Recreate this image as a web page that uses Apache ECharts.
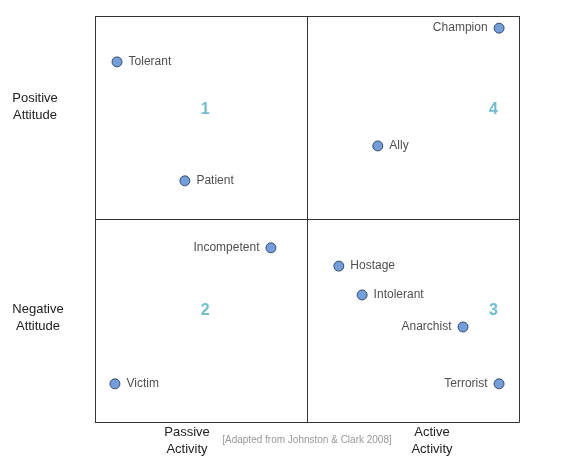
<!DOCTYPE html>
<html>
<head>
<meta charset="utf-8">
<script src="https://cdn.jsdelivr.net/npm/echarts@6/dist/echarts.min.js"></script>
<style>
    html, body, #main { margin: 0; padding: 0; width: 571px; height: 471px; background: #fff; }
</style>
</head>
<body>
<div id="main"></div>
<script>
    // stakeholder positions (activity 0-10, attitude 0-10)
    var names = ['Tolerant', 'Patient', 'Champion', 'Ally', 'Incompetent', 'Hostage', 'Intolerant', 'Anarchist', 'Victim', 'Terrorist'];
    var activity = [0.52, 2.12, 9.53, 6.67, 4.15, 5.75, 6.30, 8.68, 0.47, 9.53];
    var attitude = [8.87, 5.94, 9.70, 6.80, 4.29, 3.84, 3.13, 2.34, 0.94, 0.94];
    var labelSide = ['right', 'right', 'left', 'right', 'left', 'right', 'right', 'left', 'right', 'left'];
    var quadNums = ['1', '2', '3', '4'];
    var quadX = [2.6, 2.6, 9.4, 9.4];
    var quadY = [7.7, 2.74, 2.74, 7.7];

    var pts = names.map(function (n, i) {
        return {
            name: n, value: [activity[i], attitude[i]],
            label: { position: labelSide[i], distance: 6 }
        };
    });
    var quads = quadNums.map(function (q, i) { return { name: q, value: [quadX[i], quadY[i]] }; });

    var chart = echarts.init(document.getElementById('main'));
    chart.setOption({
        animation: false,
        textStyle: { fontFamily: 'Liberation Sans, Arial, sans-serif' },
        grid: { left: 95, right: 52, top: 16, bottom: 49 },
        xAxis: {
            type: 'value', min: 0, max: 10, interval: 5,
            axisLine: { show: false }, axisTick: { show: false }, axisLabel: { show: false },
            splitLine: { show: true, lineStyle: { color: '#333', width: 1 } }
        },
        yAxis: {
            type: 'value', min: 0, max: 10, interval: 5,
            axisLine: { show: false }, axisTick: { show: false }, axisLabel: { show: false },
            splitLine: { show: true, lineStyle: { color: '#333', width: 1 } }
        },
        graphic: [
            { type: 'rect', shape: { x: 95.5, y: 16.5, width: 424, height: 406 }, style: { fill: 'none', stroke: '#333', lineWidth: 1 } },
            { type: 'text', x: 35, y: 107, style: { text: 'Positive\nAttitude', fontSize: 13, fill: '#222', align: 'center', verticalAlign: 'middle', lineHeight: 17, fontFamily: 'Liberation Sans' } },
            { type: 'text', x: 38, y: 318, style: { text: 'Negative\nAttitude', fontSize: 13, fill: '#222', align: 'center', verticalAlign: 'middle', lineHeight: 17, fontFamily: 'Liberation Sans' } },
            { type: 'text', x: 187, y: 441, style: { text: 'Passive\nActivity', fontSize: 13, fill: '#222', align: 'center', verticalAlign: 'middle', lineHeight: 17, fontFamily: 'Liberation Sans' } },
            { type: 'text', x: 432, y: 441, style: { text: 'Active\nActivity', fontSize: 13, fill: '#222', align: 'center', verticalAlign: 'middle', lineHeight: 17, fontFamily: 'Liberation Sans' } },
            { type: 'text', x: 307, y: 440, style: { text: '[Adapted from Johnston & Clark 2008]', fontSize: 10, fill: '#999', align: 'center', verticalAlign: 'middle', fontFamily: 'Liberation Sans' } }
        ],
        series: [
            {
                type: 'scatter', data: pts, symbolSize: 10,
                itemStyle: { color: '#4f86d3', borderColor: '#1f2f4f', borderWidth: 1 },
                label: { show: true, formatter: '{b}', color: '#222', fontSize: 12 }
            },
            {
                type: 'scatter', data: quads, symbolSize: 0,
                label: { show: true, position: 'inside', formatter: '{b}', color: '#4bacc6', fontSize: 16, fontWeight: 'bold' }
            }
        ]
    });
</script>
</body>
</html>
